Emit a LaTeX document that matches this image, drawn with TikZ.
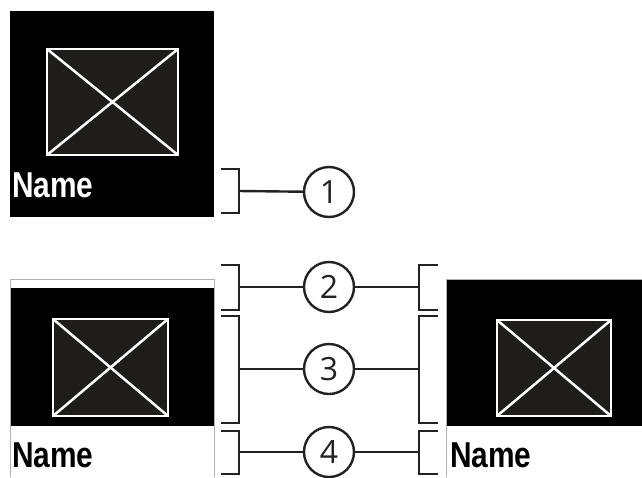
\documentclass[tikz,border=0pt]{standalone}
\usepackage{fontspec}
\usepackage{graphicx}
\setmainfont{Liberation Sans}
\newfontfamily\digitfont{Open Sans}
\definecolor{framegray}{RGB}{30,29,26}
\definecolor{linegray}{RGB}{34,34,34}
\newcommand{\condname}{\scalebox{0.83}[1]{\bfseries Name}}
\begin{document}
\begin{tikzpicture}[x=1pt,y=-1pt,
  outline/.style={draw=black!30, line width=0.8pt},
  framebox/.style={draw=white, fill=framegray, line width=2.5pt},
  bracket/.style={draw=linegray, line width=2.4pt},
  numcircle/.style={circle, draw=linegray, line width=2.4pt, minimum size=50pt,
    inner sep=0pt, text=linegray, font=\digitfont\fontsize{32}{34}\selectfont},
  namelabel/.style={anchor=base west, inner sep=0pt, font=\fontsize{36}{40}\selectfont}]
  \useasboundingbox (0,0) rectangle (642,477);

  % top tile
  \fill [black] (10,11) rectangle (214,217);
  \node [namelabel, text=white] (nameA) at (12,197) {\condname};

  % lower left tile
  \fill [black] (10,288) rectangle (214,426);
  \draw [outline] (10,477) -- (10,279) -- (214,279) -- (214,477);
  \node [namelabel, text=black] (nameB) at (12,467) {\condname};

  % lower right tile
  \fill [black] (446,279) rectangle (642,426);
  \draw [outline] (446,477) -- (446,279) -- (642,279);
  \node [namelabel, text=black] (nameC) at (450,467) {\condname};

  % picture frames
  \foreach \xa/\ya/\xb/\yb in {47/49/178/155, 53/319/168/416, 497/320/611/416}{
    \draw [framebox] (\xa,\ya) rectangle (\xb,\yb);
    \draw [white, line width=2.5pt] (\xa,\ya) -- (\xb,\yb) (\xa,\yb) -- (\xb,\ya);
  }

  % callouts
  \draw [bracket] (221,169) -- (239,169) -- (239,213) -- (221,213);
  \coordinate (l1) at (239,191);
  \node [numcircle] (c1) at (329,192) {1};
  \draw [bracket] (l1) -- (c1);

  \foreach \n/\ya/\yb/\ym in {2/265/310/287, 3/316/423/369, 4/431/474/452}{
    \draw [bracket] (221,\ya) -- (239,\ya) -- (239,\yb) -- (221,\yb);
    \draw [bracket] (438,\ya) -- (419,\ya) -- (419,\yb) -- (438,\yb);
    \coordinate (l\n) at (239,\ym);
    \coordinate (r\n) at (419,\ym);
    \node [numcircle] (c\n) at (329,\ym) {\n};
    \draw [bracket] (l\n) -- (c\n) (c\n) -- (r\n);
  }
\end{tikzpicture}
\end{document}
